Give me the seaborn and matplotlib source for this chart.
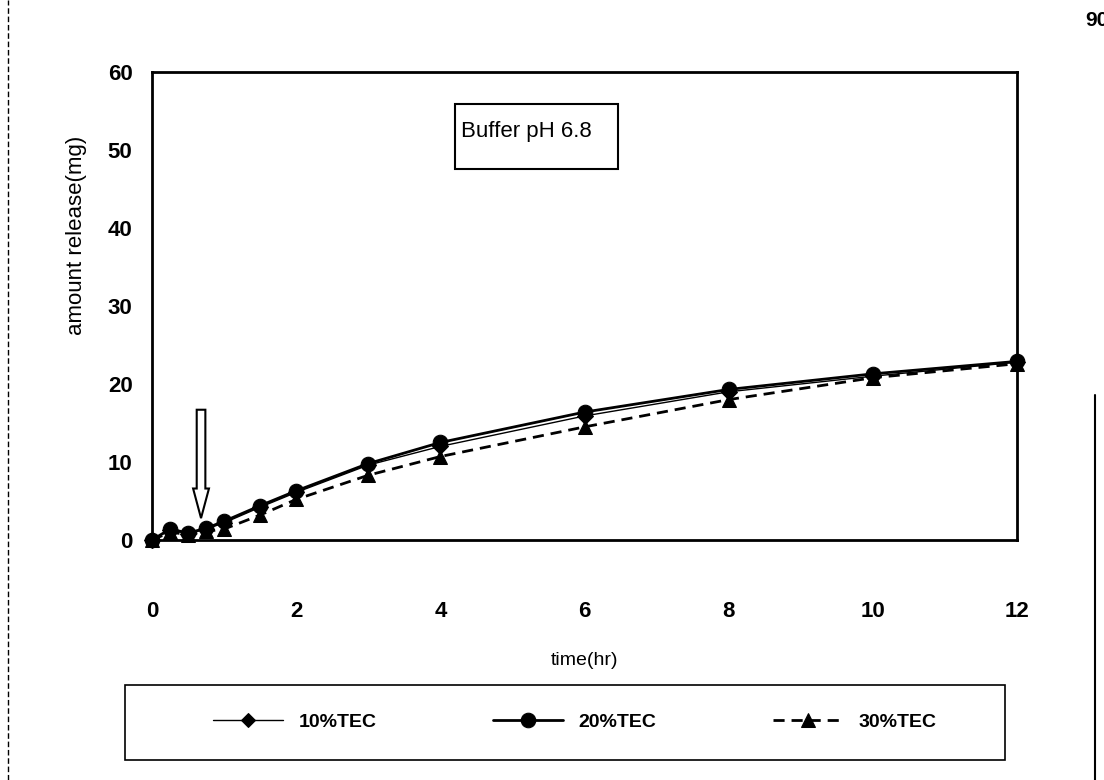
import numpy as np
import pandas as pd
import matplotlib
matplotlib.use('Agg')
import matplotlib.pyplot as plt
import seaborn as sns
from matplotlib.lines import Line2D
from matplotlib.patches import Rectangle

# release data, buffer pH 6.8
time_hr = [0, 0.25, 0.5, 0.75, 1, 1.5, 2, 3, 4, 6, 8, 10, 12]
tec10 = [0, 1.3, 0.8, 1.4, 2.2, 4.2, 6.1, 9.6, 12.0, 15.9, 19.0, 21.0, 22.8]
tec20 = [0, 1.4, 0.9, 1.5, 2.4, 4.4, 6.3, 9.8, 12.5, 16.4, 19.3, 21.3, 22.9]
tec30 = [0, 1.0, 0.7, 1.1, 1.4, 3.2, 5.2, 8.3, 10.7, 14.5, 18.0, 20.8, 22.6]
series = ['10%TEC', '20%TEC', '30%TEC']
x_ticks = [0, 2, 4, 6, 8, 10, 12]
y_ticks = [0, 10, 20, 30, 40, 50, 60]

df = pd.DataFrame({'time': time_hr * 3,
                   'amount': tec10 + tec20 + tec30,
                   'group': np.repeat(series, len(time_hr))})

sns.set_theme(style='white')
plt.rcParams['font.family'] = ['Liberation Sans', 'DejaVu Sans']
for k in ['text.color', 'axes.labelcolor', 'xtick.color', 'ytick.color']:
    plt.rcParams[k] = 'black'

fig = plt.figure(figsize=(11.04, 7.8), dpi=100)
ax = fig.add_axes([0.1377, 0.3077, 0.7835, 0.6])

sns.lineplot(data=df, x='time', y='amount', hue='group', style='group', size='group',
             palette=['black'] * 3, sizes={'10%TEC': 1.0, '20%TEC': 2.0, '30%TEC': 2.0},
             markers={'10%TEC': 'D', '20%TEC': 'o', '30%TEC': '^'},
             dashes={'10%TEC': '', '20%TEC': '', '30%TEC': (4, 2.5)},
             markersize=10.5, markeredgecolor='black', ax=ax, clip_on=False)
for ln in ax.lines:
    if ln.get_marker() == 'D':
        ln.set_markersize(8)

handles, labels = ax.get_legend_handles_labels()
ax.get_legend().remove()
for h in handles:
    if h.get_marker() == 'D':
        h.set_markersize(7.5)

ax.set_xlim(0, 12)
ax.set_ylim(0, 60)
ax.set_xticks(x_ticks)
ax.set_yticks(y_ticks)
ax.tick_params(axis='both', direction='out', length=6, width=1.2, labelsize=16)
ax.tick_params(axis='x', pad=38)
ax.tick_params(axis='y', pad=8)
plt.setp(ax.get_xticklabels() + ax.get_yticklabels(), fontweight='bold')
for s in ax.spines.values():
    s.set_linewidth(2)
    s.set_color('black')

ax.set_xlabel('time(hr)', fontsize=14)
ax.set_ylabel('amount release(mg)', fontsize=16)
ax.xaxis.set_label_coords(0.5, -0.239)
ax.yaxis.set_label_coords(-0.075, 0.65)

# label box
ax.add_patch(Rectangle((4.2, 47.6), 2.27, 8.3, fill=False, ec='black', lw=1.5))
ax.text(4.28, 52.4, 'Buffer pH 6.8', fontsize=16, va='center', ha='left')

# hollow arrow marking the pH change
ax.arrow(0.68, 16.7, 0, -13.9, width=0.12, head_width=0.22, head_length=3.8,
         length_includes_head=True, fc='white', ec='black', lw=1.5, clip_on=False)

# legend in its own box under the plot
fig.add_artist(Rectangle((125 / 1104, 20 / 780), 880 / 1104, 75 / 780,
                         transform=fig.transFigure, fill=False, ec='black', lw=1.2))
fig.legend(handles, labels, loc='center', ncol=3,
           bbox_to_anchor=(575 / 1104, 1 - 722 / 780), frameon=False,
           handlelength=3.6, columnspacing=6.0, handletextpad=0.8,
           prop={'weight': 'bold', 'size': 14})

# page number and scan edges
fig.text(1085 / 1104, 1 - 20 / 780, '90', fontsize=15, fontweight='bold', va='center')
fig.add_artist(Line2D([0.007, 0.007], [0, 1], transform=fig.transFigure,
                      color='black', lw=1, ls=(0, (4, 2))))
fig.add_artist(Line2D([0.992, 0.992], [0, 0.494], transform=fig.transFigure,
                      color='black', lw=1.5))

fig.savefig('out.png', dpi=100)
